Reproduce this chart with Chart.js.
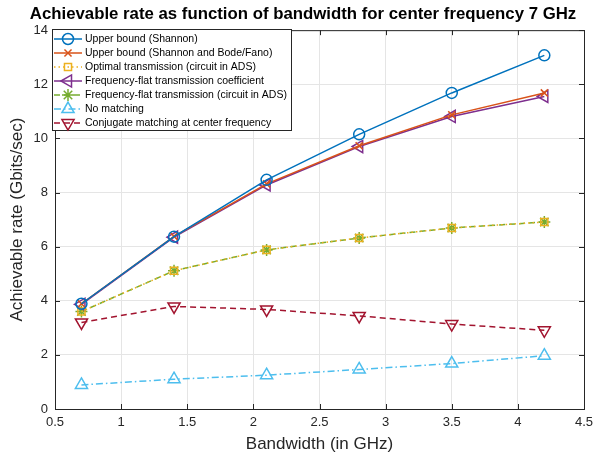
<!DOCTYPE html>
<html>
<head>
<meta charset="utf-8">
<script src="https://cdn.jsdelivr.net/npm/chart.js@4"></script>
<style>
  html, body { margin: 0; padding: 0; background: #fff; }
  #wrap { width: 606px; height: 455px; }
</style>
</head>
<body>
<div id="wrap"><canvas id="grafico" width="606" height="455"></canvas></div>
<script>
const bandwidth = [0.7, 1.4, 2.1, 2.8, 3.5, 4.2];
const shannon = [3.89, 6.37, 8.47, 10.15, 11.68, 13.07];
const bodeFano = [3.89, 6.38, 8.32, 9.73, 10.87, 11.68];
const optimalAds = [3.60, 5.11, 5.88, 6.32, 6.69, 6.91];
const flatCoef = [3.87, 6.35, 8.28, 9.70, 10.81, 11.55];
const flatAds = [3.60, 5.11, 5.88, 6.32, 6.69, 6.91];
const noMatching = [0.89, 1.10, 1.25, 1.46, 1.68, 1.97];
const conjugate = [3.20, 3.79, 3.68, 3.44, 3.14, 2.91];
const xTicks = [0.5, 1, 1.5, 2, 2.5, 3, 3.5, 4, 4.5];

const fonte = '"Liberation Sans", Arial, sans-serif';
Chart.defaults.font.family = fonte;
Chart.defaults.color = '#262626';

const pts = ys => ys.map((y, i) => ({ x: bandwidth[i], y: y }));

const serie = (label, ys, cor, estilo, rot, dash, raio) => ({
  label: label,
  data: pts(ys),
  borderColor: cor,
  backgroundColor: 'rgba(0,0,0,0)',
  pointBorderColor: cor,
  pointBackgroundColor: 'rgba(0,0,0,0)',
  pointStyle: estilo,
  rotation: rot,
  pointRadius: raio,
  pointBorderWidth: 1.5,
  borderWidth: 1.5,
  borderDash: dash,
  tension: 0
});

const datasets = [
  serie('Upper bound (Shannon)', shannon, '#0072BD', 'circle', 0, [], 5.5),
  serie('Upper bound (Shannon and Bode/Fano)', bodeFano, '#D95319', 'crossRot', 0, [], 5),
  serie('Optimal transmission (circuit in ADS)', optimalAds, '#EDB120', 'rect', 0, [1.5, 3], 5),
  serie('Frequency-flat transmission coefficient', flatCoef, '#7E2F8E', 'triangle', -90, [], 7),
  serie('Frequency-flat transmission (circuit in ADS)', flatAds, '#77AC30', 'star', 0, [6, 4], 6),
  serie('No matching', noMatching, '#4DBEEE', 'triangle', 0, [7, 3, 1.5, 3], 7),
  serie('Conjugate matching at center frequency', conjugate, '#A2142F', 'triangle', 180, [6, 4], 7)
];

// legenda dentro do gráfico, estilo MATLAB
const legendaMatlab = {
  id: 'legendaMatlab',
  afterDraw(chart) {
    const c = chart.ctx;
    const x0 = 52, y0 = 29, w = 239, h = 101;
    c.save();
    c.fillStyle = '#fff';
    c.fillRect(x0, y0, w, h);
    c.strokeStyle = '#262626';
    c.lineWidth = 1;
    c.strokeRect(x0 + 0.5, y0 + 0.5, w, h);
    c.font = '10.5px ' + fonte;
    c.textBaseline = 'middle';
    chart.data.datasets.forEach((ds, i) => {
      const y = y0 + 10 + i * 14;
      c.strokeStyle = ds.borderColor;
      c.lineWidth = 1.5;
      c.setLineDash(ds.borderDash);
      c.beginPath();
      c.moveTo(x0 + 2, y);
      c.lineTo(x0 + 30, y);
      c.stroke();
      c.setLineDash([]);
      c.fillStyle = 'rgba(0,0,0,0)';
      Chart.helpers.drawPoint(c, {
        pointStyle: ds.pointStyle,
        rotation: ds.rotation,
        radius: ds.pointRadius,
        borderWidth: 1.5
      }, x0 + 16, y);
      c.fillStyle = '#000';
      c.fillText(ds.label, x0 + 33, y + 0.5);
    });
    c.restore();
  }
};

// caixa e marcas internas dos eixos
const caixaEixos = {
  id: 'caixaEixos',
  afterDatasetsDraw(chart) {
    const { left, right, top, bottom } = chart.chartArea;
    const c = chart.ctx;
    const sx = chart.scales.x, sy = chart.scales.y;
    c.save();
    c.strokeStyle = '#262626';
    c.lineWidth = 1;
    c.strokeRect(left + 0.5, top + 0.5, right - left, bottom - top);
    c.beginPath();
    sx.ticks.forEach(t => {
      const px = Math.round(sx.getPixelForValue(t.value)) + 0.5;
      c.moveTo(px, bottom); c.lineTo(px, bottom - 5);
      c.moveTo(px, top); c.lineTo(px, top + 5);
    });
    sy.ticks.forEach(t => {
      const py = Math.round(sy.getPixelForValue(t.value)) + 0.5;
      c.moveTo(left, py); c.lineTo(left + 5, py);
      c.moveTo(right, py); c.lineTo(right - 5, py);
    });
    c.stroke();
    c.restore();
  }
};

const ctx = document.getElementById('grafico');
const grafico = new Chart(ctx, {
  type: 'line',
  data: { datasets: datasets },
  plugins: [caixaEixos, legendaMatlab],
  options: {
    responsive: false,
    animation: false,
    layout: { padding: 0 },
    plugins: {
      legend: { display: false },
      tooltip: { enabled: false },
      title: {
        display: true,
        text: 'Achievable rate as function of bandwidth for center frequency 7 GHz',
        font: { size: 16.8, weight: 'bold' },
        color: '#000',
        padding: { top: 4, bottom: 6 }
      }
    },
    scales: {
      x: {
        type: 'linear',
        min: 0.5,
        max: 4.5,
        afterBuildTicks: axis => { axis.ticks = xTicks.map(v => ({ value: v })); },
        afterFit: axis => { axis.height = 46; },
        ticks: {
          font: { size: 13 },
          color: '#262626',
          padding: 6,
          maxRotation: 0,
          callback: v => String(v)
        },
        grid: { color: '#e5e5e5', tickLength: 0, drawTicks: false },
        border: { display: false },
        title: {
          display: true,
          text: 'Bandwidth (in GHz)',
          font: { size: 17 },
          color: '#262626',
          padding: { top: 0, bottom: 0 }
        }
      },
      y: {
        min: 0,
        max: 14,
        afterFit: axis => { axis.width = 55; },
        ticks: { stepSize: 2, font: { size: 13 }, color: '#262626', padding: 7 },
        grid: { color: '#e5e5e5', tickLength: 0, drawTicks: false },
        border: { display: false },
        title: {
          display: true,
          text: 'Achievable rate (Gbits/sec)',
          font: { size: 17 },
          color: '#262626',
          padding: { top: 7, bottom: 0 }
        }
      },
      // eixo vazio à direita, só para reservar a margem
      yMargem: {
        position: 'right',
        min: 0,
        max: 14,
        afterFit: axis => { axis.width = 22; },
        ticks: { display: false },
        grid: { display: false, drawTicks: false },
        border: { display: false }
      }
    }
  }
});
</script>
</body>
</html>
